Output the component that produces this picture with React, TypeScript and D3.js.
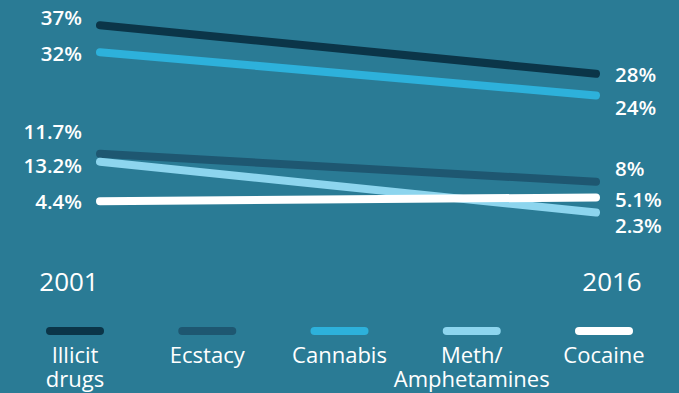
import React from "react";
import * as d3 from "d3";

const years = ["2001", "2016"];
const seriesNames = ["Illicit drugs", "Ecstacy", "Cannabis", "Meth/ Amphetamines", "Cocaine"];
const legendLines = [["Illicit", "drugs"], ["Ecstacy"], ["Cannabis"], ["Meth/", "Amphetamines"], ["Cocaine"]];
const illicit = [37, 28];
const ecstacy = [13.2, 8];
const cannabis = [32, 24];
const meth = [11.7, 2.3];
const cocaine = [4.4, 5.1];
const startLabels = ["37%", "13.2%", "32%", "11.7%", "4.4%"];
const endLabels = ["28%", "8%", "24%", "2.3%", "5.1%"];

const colors = ["#0b3548", "#1e5771", "#2db1db", "#8dd5ee", "#ffffff"];
const W = 679;
const H = 393;
const BG = "#2a7b95";

export default function App() {
  const series = [illicit, ecstacy, cannabis, meth, cocaine];
  const x = d3.scalePoint<string>().domain(years).range([100, 596]);
  const y = d3.scaleLinear().domain([0, 40]).range([225, 9]);
  const line = d3
    .line<number>()
    .x((_, i) => x(years[i]) as number)
    .y((d) => y(d));
  const legendX = d3.scalePoint<string>().domain(seriesNames).range([75, 604]);

  // label layout nudges (baseline offsets from line position)
  const leftDy = [0, 19, 9, -23, 8];
  const rightDy = [8, -6, 20, 20, 10];

  const font = "'Open Sans', 'Noto Sans', sans-serif";
  const x0 = x(years[0]) as number;
  const x1 = x(years[1]) as number;

  return (
    <div style={{ position: "absolute", left: 0, top: 0 }}>
      <svg width={W} height={H} style={{ display: "block" }}>
        <rect width={W} height={H} fill={BG} />
        {series.map((s, i) => (
          <path
            key={i}
            d={line(s) || ""}
            stroke={colors[i]}
            strokeWidth={8}
            strokeLinecap="round"
            fill="none"
          />
        ))}
        {series.map((s, i) => (
          <text
            key={"l" + i}
            x={x0 - 18}
            y={y(s[0]) + leftDy[i]}
            textAnchor="end"
            fill="#fff"
            fontFamily={font}
            fontWeight={600}
            fontSize={20.5}
          >
            {startLabels[i]}
          </text>
        ))}
        {series.map((s, i) => (
          <text
            key={"r" + i}
            x={x1 + 19}
            y={y(s[1]) + rightDy[i]}
            textAnchor="start"
            fill="#fff"
            fontFamily={font}
            fontWeight={600}
            fontSize={20.5}
          >
            {endLabels[i]}
          </text>
        ))}
        <text x={x0 - 31} y={291} textAnchor="middle" fill="#fff" fontFamily={font} fontWeight={500} fontSize={26}>
          {years[0]}
        </text>
        <text x={x1 + 16} y={291} textAnchor="middle" fill="#fff" fontFamily={font} fontWeight={500} fontSize={26}>
          {years[1]}
        </text>
        {seriesNames.map((n, i) => {
          const cx = legendX(n) as number;
          return (
            <g key={"g" + i}>
              <line x1={cx - 25} x2={cx + 25} y1={331} y2={331} stroke={colors[i]} strokeWidth={8} strokeLinecap="round" />
              {legendLines[i].map((t, j) => (
                <text
                  key={j}
                  x={cx}
                  y={363 + j * 24}
                  textAnchor="middle"
                  fill="#fff"
                  fontFamily={font}
                  fontWeight={500}
                  fontSize={22}
                >
                  {t}
                </text>
              ))}
            </g>
          );
        })}
      </svg>
    </div>
  );
}
